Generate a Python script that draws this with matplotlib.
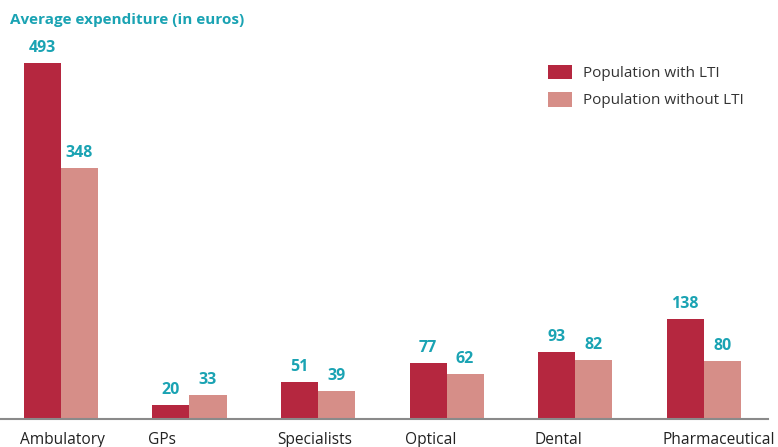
import numpy as np
import matplotlib.pyplot as plt

plt.rcParams['font.family'] = ['Open Sans', 'DejaVu Sans']

categories = ['Ambulatory', 'GPs', 'Specialists', 'Optical', 'Dental', 'Pharmaceutical']
with_lti = [493, 20, 51, 77, 93, 138]
without_lti = [348, 33, 39, 62, 82, 80]
series_names = ['Population with LTI', 'Population without LTI']

dark = '#B5273F'
light = '#D68E88'
teal = '#1AA3B3'

fig = plt.figure(figsize=(7.78, 4.47), dpi=100)
ax = fig.add_axes([0, 28/447, 768/778, (419-30)/447])

x = np.arange(len(categories))
w = 0.288
b1 = ax.bar(x - w/2, with_lti, w, color=dark, label=series_names[0])
b2 = ax.bar(x + w/2, without_lti, w, color=light, label=series_names[1])

for bars in (b1, b2):
    for bar in bars:
        h = bar.get_height()
        ax.annotate(str(int(h)), (bar.get_x() + bar.get_width()/2, h),
                    xytext=(0, 5), textcoords='offset points',
                    ha='center', va='bottom', color=teal,
                    fontsize=11.5, fontweight='bold')

ax.set_xlim(-0.474, 5.50)
ax.set_ylim(0, 539)
# category labels sit a little left of the groups, left-aligned
ax.set_xticks(x - 0.32)
ax.set_xticklabels(categories, fontsize=11.2, color='#222222', ha='left')
ax.tick_params(axis='x', length=0, pad=9)
ax.set_yticks([])
for s in ['top', 'right', 'left']:
    ax.spines[s].set_visible(False)
ax.spines['bottom'].set_color('#8a8a8a')
ax.spines['bottom'].set_linewidth(1.5)

fig.text(10/778, 1 - 20/447, 'Average expenditure (in euros)', color=teal,
         fontsize=11, fontweight='bold', va='center', ha='left')

ax.legend(loc='upper left', bbox_to_anchor=(534/768, 1 - (51-30)/389),
          frameon=False, fontsize=11, handlelength=1.6, handleheight=1.1,
          labelspacing=0.7, handletextpad=0.7, labelcolor='#333333')

fig.savefig('out.png', dpi=100)
